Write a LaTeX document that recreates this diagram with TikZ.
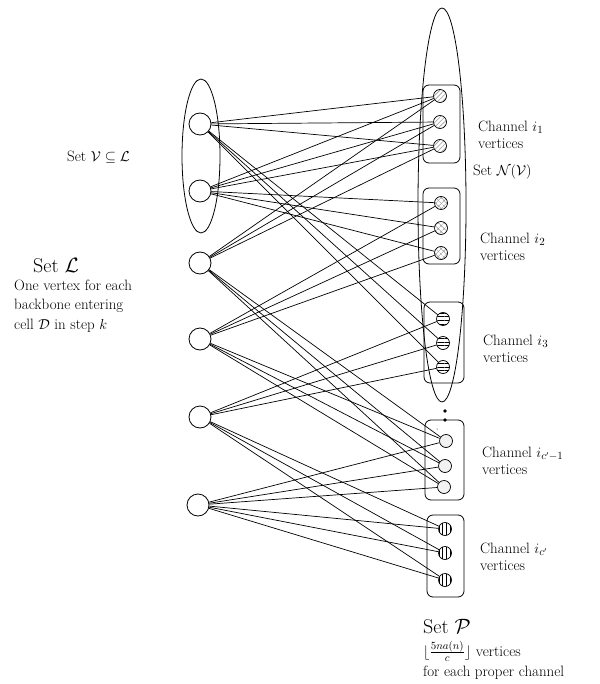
\documentclass[tikz,border=0pt]{standalone}
\usetikzlibrary{patterns.meta}
\begin{document}
\begin{tikzpicture}[x=1pt,y=-1pt,
  lv/.style={circle, draw, line width=0.8pt, minimum size=22pt, inner sep=0pt},
  rv/.style={circle, draw, line width=0.7pt, minimum size=13pt, inner sep=0pt},
  chbox/.style={draw, line width=0.8pt, rounded corners=6pt},
  setell/.style={draw, line width=0.8pt},
  lbl/.style={font=\fontsize{15}{17.5}\selectfont, align=left, inner sep=0pt, anchor=west},
  biglbl/.style={font=\fontsize{20}{24}\selectfont, inner sep=0pt, anchor=west},
  edge/.style={line width=0.7pt},
  pa/.style={pattern={Lines[angle=45, distance=3.2pt, line width=0.6pt]}, pattern color=gray!80},
  pb/.style={pattern={Hatch[angle=45, distance=4pt, line width=0.5pt]}, pattern color=gray!80},
  pc/.style={pattern={Lines[angle=0, distance=3.6pt, line width=0.7pt]}, pattern color=black},
  pd/.style={fill=gray!10},
  pe/.style={pattern={Lines[angle=90, distance=3.6pt, line width=0.7pt]}, pattern color=black}]
\useasboundingbox (0,0) rectangle (599,684);

% set ellipses
\draw[setell] (201,156) ellipse [x radius=19pt, y radius=77pt];
\draw[setell] (442,205) ellipse [x radius=24pt, y radius=197pt];

% channel boxes
\draw[chbox] (423,85) rectangle (460,163);
\draw[chbox] (423,188) rectangle (460,264);
\draw[chbox] (424,302) rectangle (464,383);
\draw[chbox] (425,420) rectangle (464,500);
\draw[chbox] (427,515) rectangle (464,597);

% dots
\fill (445,411) circle[radius=1.8pt];
\fill (445,420) circle[radius=1.8pt];
\fill (437,429) circle[radius=0.5pt];

% left vertices
\node[lv] (L1) at (200,124) {};
\node[lv] (L2) at (200,191) {};
\node[lv] (L3) at (200,263) {};
\node[lv] (L4) at (200,339) {};
\node[lv] (L5) at (200,417) {};
\node[lv] (L6) at (198,505) {};

% right vertices
\node[rv, pa] (a1) at (440,96) {};
\node[rv, pa] (a2) at (440,122) {};
\node[rv, pa] (a3) at (440,146) {};
\node[rv, pb] (b1) at (441,203) {};
\node[rv, pb] (b2) at (441,228) {};
\node[rv, pb] (b3) at (441,253) {};
\node[rv, pc] (c1) at (443,319) {};
\node[rv, pc] (c2) at (443,343) {};
\node[rv, pc] (c3) at (443,367) {};
\node[rv, pd] (d1) at (446,441) {};
\node[rv, pd] (d2) at (445,466) {};
\node[rv, pd] (d3) at (444,487) {};
\node[rv, pe] (e1) at (445,529) {};
\node[rv, pe] (e2) at (445,553) {};
\node[rv, pe] (e3) at (445,580) {};

% edges
\foreach \s/\t/\u in {L1/a/c, L2/a/b, L3/a/d, L4/b/d, L5/c/e, L6/d/e}{
  \foreach \k in {1,2,3}{
    \draw[edge] (\s) -- (\t\k);
    \draw[edge] (\s) -- (\u\k);
  }
}

% labels
\node[lbl] (tV) at (67,157) {Set $\mathcal{V}\subseteq\mathcal{L}$};
\node[biglbl] (tL) at (33,266) {Set $\mathcal{L}$};
\node[lbl, font=\fontsize{15}{19.5}\selectfont] (tLd) at (14,306) {One vertex for each\\backbone entering\\cell $\mathcal{D}$ in step $k$};
\node[lbl] (ch1) at (478,135) {Channel $i_1$\\vertices};
\node[lbl] (tNV) at (473,172) {Set $\mathcal{N}(\mathcal{V})$};
\node[lbl] (ch2) at (480,247) {Channel $i_2$\\vertices};
\node[lbl] (ch3) at (483,349) {Channel $i_3$\\vertices};
\node[lbl] (ch4) at (482,461) {Channel $i_{c'-1}$\\vertices};
\node[lbl] (ch5) at (480,557) {Channel $i_{c'}$\\vertices};
\node[biglbl] (tP) at (423,627) {Set $\mathcal{P}$};
\node[lbl] (tPf) at (423,651) {$\lfloor\frac{5na(n)}{c}\rfloor$ vertices};
\node[lbl] (tPd) at (423,673) {for each proper channel};
\end{tikzpicture}
\end{document}
